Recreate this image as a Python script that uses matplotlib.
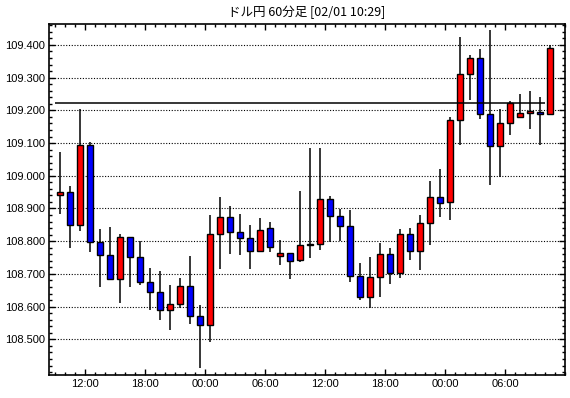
"""ドル円 60分足 ローソク足チャート."""
import matplotlib
matplotlib.use("Agg")
import matplotlib.pyplot as plt
from matplotlib.ticker import FixedLocator, MultipleLocator, FuncFormatter

plt.rcParams['font.family'] = ['Liberation Sans', 'DejaVu Sans']

# ── データ (1時間足, 09:00 開始) ─────────────────────────────────
START_HOUR = 9
opens = [108.942, 108.951, 108.849, 109.095, 108.798, 108.758, 108.685, 108.814, 108.752, 108.675,
         108.645, 108.590, 108.608, 108.663, 108.571, 108.544, 108.823, 108.874, 108.829, 108.810,
         108.771, 108.841, 108.755, 108.765, 108.743, 108.789, 108.792, 108.929, 108.877, 108.847,
         108.695, 108.630, 108.691, 108.761, 108.702, 108.822, 108.770, 108.856, 108.936, 108.920,
         109.171, 109.312, 109.361, 109.190, 109.092, 109.162, 109.181, 109.193, 109.196, 109.190]
highs = [109.072, 108.970, 109.203, 109.104, 108.836, 108.842, 108.821, 108.814, 108.801, 108.719,
         108.710, 108.667, 108.688, 108.756, 108.606, 108.879, 108.936, 108.909, 108.882, 108.851,
         108.872, 108.860, 108.805, 108.765, 108.952, 109.085, 109.085, 108.939, 108.899, 108.894,
         108.732, 108.751, 108.796, 108.778, 108.838, 108.841, 108.879, 108.985, 109.022, 109.180,
         109.423, 109.370, 109.389, 109.445, 109.205, 109.228, 109.249, 109.258, 109.240, 109.401]
lows = [108.884, 108.779, 108.831, 108.766, 108.659, 108.685, 108.611, 108.659, 108.665, 108.589,
        108.558, 108.528, 108.595, 108.546, 108.412, 108.491, 108.715, 108.761, 108.758, 108.715,
        108.767, 108.767, 108.727, 108.684, 108.736, 108.748, 108.774, 108.797, 108.801, 108.675,
        108.620, 108.597, 108.630, 108.669, 108.687, 108.742, 108.711, 108.788, 108.873, 108.864,
        109.094, 109.232, 109.174, 108.972, 108.997, 109.124, 109.181, 109.144, 109.094, 109.186]
closes = [108.951, 108.849, 109.095, 108.798, 108.758, 108.685, 108.814, 108.752, 108.674, 108.645,
          108.590, 108.608, 108.663, 108.571, 108.544, 108.822, 108.874, 108.829, 108.810, 108.771,
          108.835, 108.783, 108.765, 108.740, 108.789, 108.791, 108.929, 108.877, 108.847, 108.695,
          108.630, 108.691, 108.762, 108.702, 108.822, 108.770, 108.856, 108.936, 108.917, 109.171,
          109.312, 109.361, 109.190, 109.092, 109.162, 109.223, 109.193, 109.199, 109.190, 109.392]

REF_LEVEL = 109.224
REF_SPAN = (9.0, 58.0)

y_major = [108.5, 108.6, 108.7, 108.8, 108.9, 109.0, 109.1, 109.2, 109.3, 109.4]
x_major_hours = [12, 18, 24, 30, 36, 42, 48, 54]
x_labels = ["12:00", "18:00", "00:00", "06:00", "12:00", "18:00", "00:00", "06:00"]

TITLE = "ドル円 60分足 [02/01 10:29]"

# ── 描画 ──────────────────────────────────────────────────────────
fig = plt.figure(figsize=(5.70, 3.98), dpi=100)
ax = fig.add_axes([49 / 570, 1 - 375 / 398, 516 / 570, 351 / 398])

xs = [START_HOUR + i + 0.5 for i in range(len(opens))]
colors = ['#FF0000' if c >= o else '#0000FF' for o, c in zip(opens, closes)]

ax.vlines(xs, lows, highs, color='black', linewidth=1.1, zorder=2)
ax.bar(xs, [c - o for o, c in zip(opens, closes)], bottom=opens, width=0.68,
       color=colors, edgecolor='black', linewidth=1.0, zorder=3)

ax.hlines(REF_LEVEL, REF_SPAN[0], REF_SPAN[1], color='black', linewidth=1.1, zorder=4)

ax.set_xlim(8.4, 60.0)
ax.set_ylim(108.391, 109.464)

ax.yaxis.set_major_locator(FixedLocator(y_major))
ax.yaxis.set_minor_locator(MultipleLocator(0.02))
ax.yaxis.set_major_formatter(FuncFormatter(lambda v, _: f"{v:.3f}"))
ax.xaxis.set_major_locator(FixedLocator(x_major_hours))
ax.xaxis.set_minor_locator(MultipleLocator(1))
ax.set_xticklabels(x_labels)

ax.tick_params(which='both', direction='in', top=True, right=True,
               labelsize=8, colors='black', pad=3)
ax.tick_params(which='major', length=4, width=1)
ax.tick_params(which='minor', length=2.5, width=1)

ax.grid(True, axis='y', which='major', color='black', linewidth=0.8,
        linestyle=(0, (1, 1.5)), zorder=1)
for s in ax.spines.values():
    s.set_linewidth(1.2)

fig.text(307 / 570, 1 - 12 / 398, TITLE, ha='center', va='center', fontsize=9,
         family=['Noto Sans CJK JP', 'DejaVu Sans'])

fig.savefig("out.png", dpi=100)
